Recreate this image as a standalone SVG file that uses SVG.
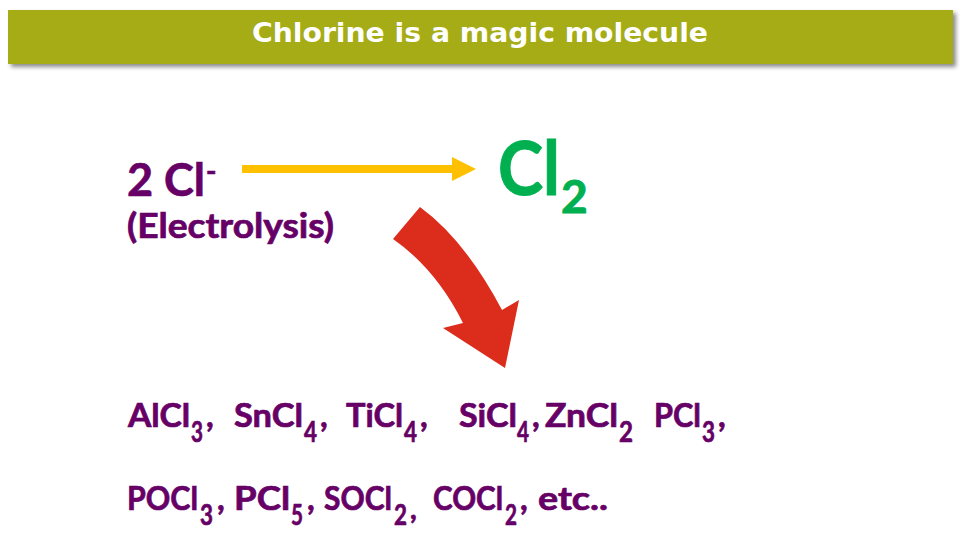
<svg xmlns="http://www.w3.org/2000/svg" width="966" height="549" viewBox="0 0 966 549">
<defs>
<filter id="sh" x="-5%" y="-20%" width="110%" height="160%">
<feDropShadow dx="3" dy="3" stdDeviation="2" flood-color="#000" flood-opacity="0.45"/>
</filter>
</defs>
<style>
.p{font-family:Lato,"Open Sans",sans-serif;font-weight:700;fill:#660066;stroke:#660066;stroke-width:0.7px}
.m{font-size:33px}
.s{font-size:29px}
.g{font-family:Lato,"Open Sans",sans-serif;font-weight:700;fill:#00B050;stroke:#00B050;stroke-width:1px}
.t{font-family:"DejaVu Sans",Verdana,sans-serif;font-weight:700;fill:#fff;font-size:27px}
</style>
<rect width="966" height="549" fill="#fff"/>
<g id="title">
<rect x="8" y="10" width="945" height="54" fill="#A6AC14" filter="url(#sh)"/>
<text class="t" x="252" y="42" textLength="456" lengthAdjust="spacingAndGlyphs">Chlorine is a magic molecule</text>
</g>
<g id="chloride">
<text class="p" font-size="46"><tspan x="127" y="196" textLength="78" lengthAdjust="spacingAndGlyphs">2 Cl</tspan><tspan x="206" y="181" font-size="28">-</tspan></text>
<text class="p" x="127" y="238" font-size="34" textLength="207" lengthAdjust="spacingAndGlyphs">(Electrolysis)</text>
</g>
<g id="chlorine">
<text class="g" font-size="74"><tspan x="498" y="195" textLength="62" lengthAdjust="spacingAndGlyphs">Cl</tspan><tspan x="561" y="213" font-size="46">2</tspan></text>
</g>
<g id="connectors">
<line x1="242" y1="169" x2="455" y2="169" stroke="#FFC000" stroke-width="8"/>
<polygon points="452,157 476,169 452,181" fill="#FFC000"/>
<path d="M393,239 L420,207 Q465,240 502,310 L519,300 L505,368 L443,328 L463,323 Q436,269 393,239 Z" fill="#DC2D1C"/>
</g>
<g id="compounds1">
<text class="p m"><tspan x="128" y="427" textLength="62" lengthAdjust="spacingAndGlyphs">AlCl</tspan><tspan class="s" x="191" y="442" textLength="12" lengthAdjust="spacingAndGlyphs">3</tspan><tspan x="206" y="427">,</tspan></text>
<text class="p m"><tspan x="234" y="427" textLength="69" lengthAdjust="spacingAndGlyphs">SnCl</tspan><tspan class="s" x="304" y="442" textLength="13" lengthAdjust="spacingAndGlyphs">4</tspan><tspan x="320" y="427">,</tspan></text>
<text class="p m"><tspan x="346" y="427" textLength="57" lengthAdjust="spacingAndGlyphs">TiCl</tspan><tspan class="s" x="404" y="442" textLength="13" lengthAdjust="spacingAndGlyphs">4</tspan><tspan x="420" y="427">,</tspan></text>
<text class="p m"><tspan x="459" y="427" textLength="58" lengthAdjust="spacingAndGlyphs">SiCl</tspan><tspan class="s" x="517" y="442" textLength="12" lengthAdjust="spacingAndGlyphs">4</tspan><tspan x="532" y="427">,</tspan></text>
<text class="p m"><tspan x="545" y="427" textLength="73" lengthAdjust="spacingAndGlyphs">ZnCl</tspan><tspan class="s" x="619" y="442" textLength="14" lengthAdjust="spacingAndGlyphs">2</tspan></text>
<text class="p m"><tspan x="654" y="427" textLength="47" lengthAdjust="spacingAndGlyphs">PCl</tspan><tspan class="s" x="702" y="442" textLength="13" lengthAdjust="spacingAndGlyphs">3</tspan><tspan x="718" y="427">,</tspan></text>
</g>
<g id="compounds2">
<text class="p m"><tspan x="127" y="510" textLength="71" lengthAdjust="spacingAndGlyphs">POCl</tspan><tspan class="s" x="200" y="525" textLength="13" lengthAdjust="spacingAndGlyphs">3</tspan><tspan x="217" y="510">,</tspan></text>
<text class="p m"><tspan x="234" y="510" textLength="56" lengthAdjust="spacingAndGlyphs">PCl</tspan><tspan class="s" x="291" y="525" textLength="12" lengthAdjust="spacingAndGlyphs">5</tspan><tspan x="307" y="510">,</tspan></text>
<text class="p m"><tspan x="324" y="510" textLength="68" lengthAdjust="spacingAndGlyphs">SOCl</tspan><tspan class="s" x="394" y="525" textLength="13" lengthAdjust="spacingAndGlyphs">2</tspan><tspan class="s" x="410" y="519">,</tspan></text>
<text class="p m"><tspan x="433" y="510" textLength="70" lengthAdjust="spacingAndGlyphs">COCl</tspan><tspan class="s" x="505" y="525" textLength="12" lengthAdjust="spacingAndGlyphs">2</tspan><tspan x="520" y="510">,</tspan></text>
<text class="p m" x="538" y="510" textLength="70" lengthAdjust="spacingAndGlyphs">etc..</text>
</g>
</svg>
